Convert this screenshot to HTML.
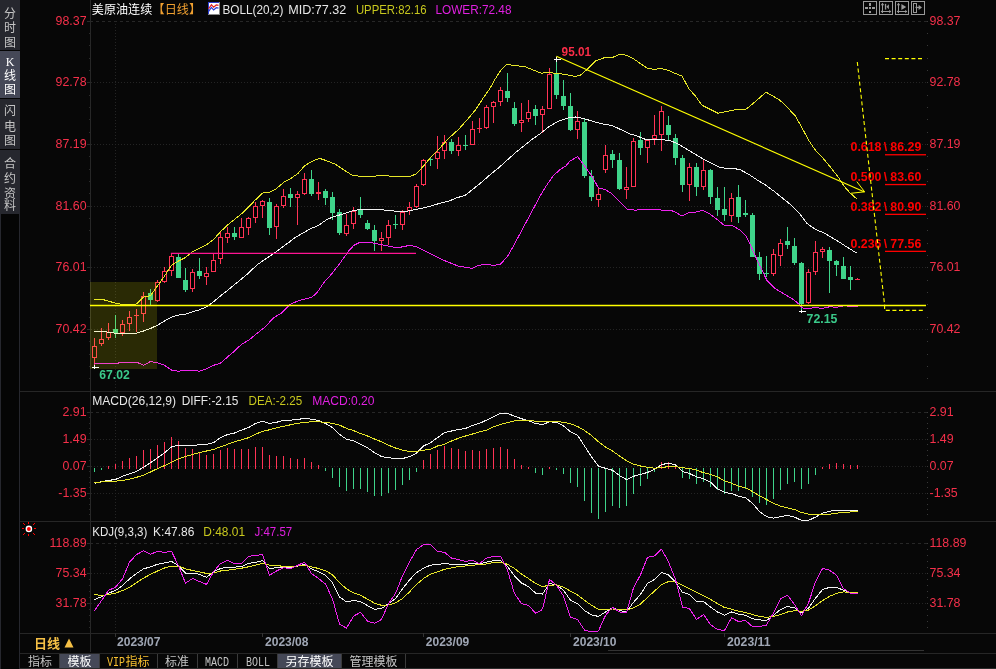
<!DOCTYPE html>
<html lang="zh"><head><meta charset="utf-8"><title>美原油连续 日线</title>
<style>
html,body{margin:0;padding:0;background:#070707;overflow:hidden}
svg text{font-family:"Liberation Sans","Noto Sans CJK SC",sans-serif}
svg .cj{font-family:"Liberation Sans","Noto Sans CJK SC","WenQuanYi Zen Hei",sans-serif}
svg .mo{font-family:"Liberation Mono","Noto Sans CJK SC",monospace}
</style></head><body>
<svg width="996" height="669" viewBox="0 0 996 669" style="display:block;will-change:transform">
<rect width="996" height="669" fill="#070707"/>
<g id="sidebar">
<rect x="0" y="0" width="20" height="669" fill="#050505"/>
<rect x="0" y="0" width="20" height="50" fill="#26272e"/>
<rect x="0" y="51" width="20" height="47" fill="#454857"/>
<rect x="0" y="99" width="20" height="50" fill="#26272e"/>
<rect x="0" y="150" width="20" height="64" fill="#26272e"/>
<rect x="0" y="214" width="1" height="455" fill="#26272e"/>
<rect x="19" y="214" width="1" height="455" fill="#26272e"/>
<text x="10" y="17.5" text-anchor="middle" font-size="12" fill="#c4c4c4" class="cj">分</text>
<text x="10" y="32" text-anchor="middle" font-size="12" fill="#c4c4c4" class="cj">时</text>
<text x="10" y="46.5" text-anchor="middle" font-size="12" fill="#c4c4c4" class="cj">图</text>
<text x="10" y="66" text-anchor="middle" font-size="12" fill="#ffffff" style="font-family:'Liberation Serif',serif">K</text>
<text x="10" y="66" text-anchor="middle" font-size="12" fill="#ffffff" class="cj"> </text>
<text x="10" y="80" text-anchor="middle" font-size="12" fill="#ffffff" class="cj">线</text>
<text x="10" y="94" text-anchor="middle" font-size="12" fill="#ffffff" class="cj">图</text>
<text x="10" y="115" text-anchor="middle" font-size="12" fill="#c4c4c4" class="cj">闪</text>
<text x="10" y="130.5" text-anchor="middle" font-size="12" fill="#c4c4c4" class="cj">电</text>
<text x="10" y="144.5" text-anchor="middle" font-size="12" fill="#c4c4c4" class="cj">图</text>
<text x="10" y="167.5" text-anchor="middle" font-size="12" fill="#c4c4c4" class="cj">合</text>
<text x="10" y="183" text-anchor="middle" font-size="12" fill="#c4c4c4" class="cj">约</text>
<text x="10" y="197.5" text-anchor="middle" font-size="12" fill="#c4c4c4" class="cj">资</text>
<text x="10" y="210.4" text-anchor="middle" font-size="12" fill="#c4c4c4" class="cj">料</text>
</g>
<g id="grid" shape-rendering="crispEdges">
<line x1="90" y1="21.5" x2="927" y2="21.5" stroke="#272727" stroke-width="1" stroke-dasharray="3 3"/>
<line x1="91" y1="82.5" x2="927" y2="82.5" stroke="#242424" stroke-width="1" stroke-dasharray="1 2"/>
<line x1="91" y1="144.5" x2="927" y2="144.5" stroke="#242424" stroke-width="1" stroke-dasharray="1 2"/>
<line x1="91" y1="206.5" x2="927" y2="206.5" stroke="#242424" stroke-width="1" stroke-dasharray="1 2"/>
<line x1="91" y1="267.5" x2="927" y2="267.5" stroke="#242424" stroke-width="1" stroke-dasharray="1 2"/>
<line x1="91" y1="329.5" x2="927" y2="329.5" stroke="#242424" stroke-width="1" stroke-dasharray="1 2"/>
<line x1="90" y1="412.5" x2="927" y2="412.5" stroke="#272727" stroke-width="1" stroke-dasharray="3 3"/>
<line x1="91" y1="439.5" x2="927" y2="439.5" stroke="#242424" stroke-width="1" stroke-dasharray="1 2"/>
<line x1="91" y1="466.5" x2="927" y2="466.5" stroke="#242424" stroke-width="1" stroke-dasharray="1 2"/>
<line x1="91" y1="493.5" x2="927" y2="493.5" stroke="#242424" stroke-width="1" stroke-dasharray="1 2"/>
<line x1="90" y1="543.5" x2="927" y2="543.5" stroke="#272727" stroke-width="1" stroke-dasharray="3 3"/>
<line x1="91" y1="573.5" x2="927" y2="573.5" stroke="#242424" stroke-width="1" stroke-dasharray="1 2"/>
<line x1="91" y1="603.5" x2="927" y2="603.5" stroke="#242424" stroke-width="1" stroke-dasharray="1 2"/>
<line x1="115.5" y1="21" x2="115.5" y2="391" stroke="#242424" stroke-width="1" stroke-dasharray="1 2"/>
<line x1="115.5" y1="412" x2="115.5" y2="521" stroke="#242424" stroke-width="1" stroke-dasharray="1 2"/>
<line x1="115.5" y1="543" x2="115.5" y2="633" stroke="#242424" stroke-width="1" stroke-dasharray="1 2"/>
<rect x="90" y="0" width="1" height="652" fill="#272727"/>
<rect x="927" y="21" width="1" height="1" fill="#383838"/>
<rect x="89" y="21" width="1" height="1" fill="#2a2a2a"/>
<rect x="927" y="33" width="1" height="1" fill="#383838"/>
<rect x="89" y="33" width="1" height="1" fill="#2a2a2a"/>
<rect x="927" y="45" width="1" height="1" fill="#383838"/>
<rect x="89" y="45" width="1" height="1" fill="#2a2a2a"/>
<rect x="927" y="58" width="1" height="1" fill="#383838"/>
<rect x="89" y="58" width="1" height="1" fill="#2a2a2a"/>
<rect x="927" y="70" width="1" height="1" fill="#383838"/>
<rect x="89" y="70" width="1" height="1" fill="#2a2a2a"/>
<rect x="927" y="82" width="1" height="1" fill="#383838"/>
<rect x="89" y="82" width="1" height="1" fill="#2a2a2a"/>
<rect x="927" y="95" width="1" height="1" fill="#383838"/>
<rect x="89" y="95" width="1" height="1" fill="#2a2a2a"/>
<rect x="927" y="107" width="1" height="1" fill="#383838"/>
<rect x="89" y="107" width="1" height="1" fill="#2a2a2a"/>
<rect x="927" y="119" width="1" height="1" fill="#383838"/>
<rect x="89" y="119" width="1" height="1" fill="#2a2a2a"/>
<rect x="927" y="132" width="1" height="1" fill="#383838"/>
<rect x="89" y="132" width="1" height="1" fill="#2a2a2a"/>
<rect x="927" y="144" width="1" height="1" fill="#383838"/>
<rect x="89" y="144" width="1" height="1" fill="#2a2a2a"/>
<rect x="927" y="156" width="1" height="1" fill="#383838"/>
<rect x="89" y="156" width="1" height="1" fill="#2a2a2a"/>
<rect x="927" y="169" width="1" height="1" fill="#383838"/>
<rect x="89" y="169" width="1" height="1" fill="#2a2a2a"/>
<rect x="927" y="181" width="1" height="1" fill="#383838"/>
<rect x="89" y="181" width="1" height="1" fill="#2a2a2a"/>
<rect x="927" y="193" width="1" height="1" fill="#383838"/>
<rect x="89" y="193" width="1" height="1" fill="#2a2a2a"/>
<rect x="927" y="206" width="1" height="1" fill="#383838"/>
<rect x="89" y="206" width="1" height="1" fill="#2a2a2a"/>
<rect x="927" y="218" width="1" height="1" fill="#383838"/>
<rect x="89" y="218" width="1" height="1" fill="#2a2a2a"/>
<rect x="927" y="230" width="1" height="1" fill="#383838"/>
<rect x="89" y="230" width="1" height="1" fill="#2a2a2a"/>
<rect x="927" y="243" width="1" height="1" fill="#383838"/>
<rect x="89" y="243" width="1" height="1" fill="#2a2a2a"/>
<rect x="927" y="255" width="1" height="1" fill="#383838"/>
<rect x="89" y="255" width="1" height="1" fill="#2a2a2a"/>
<rect x="927" y="267" width="1" height="1" fill="#383838"/>
<rect x="89" y="267" width="1" height="1" fill="#2a2a2a"/>
<rect x="927" y="280" width="1" height="1" fill="#383838"/>
<rect x="89" y="280" width="1" height="1" fill="#2a2a2a"/>
<rect x="927" y="292" width="1" height="1" fill="#383838"/>
<rect x="89" y="292" width="1" height="1" fill="#2a2a2a"/>
<rect x="927" y="304" width="1" height="1" fill="#383838"/>
<rect x="89" y="304" width="1" height="1" fill="#2a2a2a"/>
<rect x="927" y="317" width="1" height="1" fill="#383838"/>
<rect x="89" y="317" width="1" height="1" fill="#2a2a2a"/>
<rect x="927" y="329" width="1" height="1" fill="#383838"/>
<rect x="89" y="329" width="1" height="1" fill="#2a2a2a"/>
<rect x="927" y="341" width="1" height="1" fill="#383838"/>
<rect x="89" y="341" width="1" height="1" fill="#2a2a2a"/>
<rect x="927" y="354" width="1" height="1" fill="#383838"/>
<rect x="89" y="354" width="1" height="1" fill="#2a2a2a"/>
<rect x="927" y="366" width="1" height="1" fill="#383838"/>
<rect x="89" y="366" width="1" height="1" fill="#2a2a2a"/>
<rect x="927" y="378" width="1" height="1" fill="#383838"/>
<rect x="89" y="378" width="1" height="1" fill="#2a2a2a"/>
<rect x="927" y="412" width="1" height="1" fill="#383838"/>
<rect x="89" y="412" width="1" height="1" fill="#2a2a2a"/>
<rect x="927" y="417" width="1" height="1" fill="#383838"/>
<rect x="89" y="417" width="1" height="1" fill="#2a2a2a"/>
<rect x="927" y="423" width="1" height="1" fill="#383838"/>
<rect x="89" y="423" width="1" height="1" fill="#2a2a2a"/>
<rect x="927" y="428" width="1" height="1" fill="#383838"/>
<rect x="89" y="428" width="1" height="1" fill="#2a2a2a"/>
<rect x="927" y="433" width="1" height="1" fill="#383838"/>
<rect x="89" y="433" width="1" height="1" fill="#2a2a2a"/>
<rect x="927" y="439" width="1" height="1" fill="#383838"/>
<rect x="89" y="439" width="1" height="1" fill="#2a2a2a"/>
<rect x="927" y="444" width="1" height="1" fill="#383838"/>
<rect x="89" y="444" width="1" height="1" fill="#2a2a2a"/>
<rect x="927" y="450" width="1" height="1" fill="#383838"/>
<rect x="89" y="450" width="1" height="1" fill="#2a2a2a"/>
<rect x="927" y="455" width="1" height="1" fill="#383838"/>
<rect x="89" y="455" width="1" height="1" fill="#2a2a2a"/>
<rect x="927" y="460" width="1" height="1" fill="#383838"/>
<rect x="89" y="460" width="1" height="1" fill="#2a2a2a"/>
<rect x="927" y="466" width="1" height="1" fill="#383838"/>
<rect x="89" y="466" width="1" height="1" fill="#2a2a2a"/>
<rect x="927" y="471" width="1" height="1" fill="#383838"/>
<rect x="89" y="471" width="1" height="1" fill="#2a2a2a"/>
<rect x="927" y="477" width="1" height="1" fill="#383838"/>
<rect x="89" y="477" width="1" height="1" fill="#2a2a2a"/>
<rect x="927" y="482" width="1" height="1" fill="#383838"/>
<rect x="89" y="482" width="1" height="1" fill="#2a2a2a"/>
<rect x="927" y="487" width="1" height="1" fill="#383838"/>
<rect x="89" y="487" width="1" height="1" fill="#2a2a2a"/>
<rect x="927" y="493" width="1" height="1" fill="#383838"/>
<rect x="89" y="493" width="1" height="1" fill="#2a2a2a"/>
<rect x="927" y="498" width="1" height="1" fill="#383838"/>
<rect x="89" y="498" width="1" height="1" fill="#2a2a2a"/>
<rect x="927" y="504" width="1" height="1" fill="#383838"/>
<rect x="89" y="504" width="1" height="1" fill="#2a2a2a"/>
<rect x="927" y="509" width="1" height="1" fill="#383838"/>
<rect x="89" y="509" width="1" height="1" fill="#2a2a2a"/>
<rect x="927" y="514" width="1" height="1" fill="#383838"/>
<rect x="89" y="514" width="1" height="1" fill="#2a2a2a"/>
<rect x="927" y="543" width="1" height="1" fill="#383838"/>
<rect x="89" y="543" width="1" height="1" fill="#2a2a2a"/>
<rect x="927" y="549" width="1" height="1" fill="#383838"/>
<rect x="89" y="549" width="1" height="1" fill="#2a2a2a"/>
<rect x="927" y="555" width="1" height="1" fill="#383838"/>
<rect x="89" y="555" width="1" height="1" fill="#2a2a2a"/>
<rect x="927" y="561" width="1" height="1" fill="#383838"/>
<rect x="89" y="561" width="1" height="1" fill="#2a2a2a"/>
<rect x="927" y="567" width="1" height="1" fill="#383838"/>
<rect x="89" y="567" width="1" height="1" fill="#2a2a2a"/>
<rect x="927" y="573" width="1" height="1" fill="#383838"/>
<rect x="89" y="573" width="1" height="1" fill="#2a2a2a"/>
<rect x="927" y="579" width="1" height="1" fill="#383838"/>
<rect x="89" y="579" width="1" height="1" fill="#2a2a2a"/>
<rect x="927" y="585" width="1" height="1" fill="#383838"/>
<rect x="89" y="585" width="1" height="1" fill="#2a2a2a"/>
<rect x="927" y="591" width="1" height="1" fill="#383838"/>
<rect x="89" y="591" width="1" height="1" fill="#2a2a2a"/>
<rect x="927" y="597" width="1" height="1" fill="#383838"/>
<rect x="89" y="597" width="1" height="1" fill="#2a2a2a"/>
<rect x="927" y="603" width="1" height="1" fill="#383838"/>
<rect x="89" y="603" width="1" height="1" fill="#2a2a2a"/>
<rect x="927" y="609" width="1" height="1" fill="#383838"/>
<rect x="89" y="609" width="1" height="1" fill="#2a2a2a"/>
<rect x="927" y="615" width="1" height="1" fill="#383838"/>
<rect x="89" y="615" width="1" height="1" fill="#2a2a2a"/>
<rect x="927" y="621" width="1" height="1" fill="#383838"/>
<rect x="89" y="621" width="1" height="1" fill="#2a2a2a"/>
<rect x="927" y="627" width="1" height="1" fill="#383838"/>
<rect x="89" y="627" width="1" height="1" fill="#2a2a2a"/>
<rect x="87" y="21" width="3" height="1" fill="#2a2a2a"/>
<rect x="87" y="82" width="3" height="1" fill="#2a2a2a"/>
<rect x="87" y="144" width="3" height="1" fill="#2a2a2a"/>
<rect x="87" y="206" width="3" height="1" fill="#2a2a2a"/>
<rect x="87" y="267" width="3" height="1" fill="#2a2a2a"/>
<rect x="87" y="329" width="3" height="1" fill="#2a2a2a"/>
<rect x="87" y="412" width="3" height="1" fill="#2a2a2a"/>
<rect x="87" y="439" width="3" height="1" fill="#2a2a2a"/>
<rect x="87" y="466" width="3" height="1" fill="#2a2a2a"/>
<rect x="87" y="493" width="3" height="1" fill="#2a2a2a"/>
<rect x="87" y="543" width="3" height="1" fill="#2a2a2a"/>
<rect x="87" y="573" width="3" height="1" fill="#2a2a2a"/>
<rect x="87" y="603" width="3" height="1" fill="#2a2a2a"/>
<rect x="20" y="391" width="976" height="1" fill="#262626"/>
<rect x="20" y="521" width="976" height="1" fill="#262626"/>
<rect x="20" y="633" width="976" height="1" fill="#262626"/>
<rect x="20" y="653" width="976" height="1" fill="#262626"/>
<rect x="608" y="650" width="316" height="1" fill="#333"/>
<rect x="20" y="668" width="976" height="1" fill="#2b2b2b"/>
</g>
<g id="candles" shape-rendering="crispEdges">
<rect x="94" y="338" width="1" height="27" fill="#ff3355"/>
<rect x="92" y="346" width="5" height="12" fill="#ff3355"/>
<rect x="93" y="347" width="3" height="10" fill="#000"/>
<rect x="101" y="328" width="1" height="18" fill="#ff3355"/>
<rect x="99" y="339" width="5" height="5" fill="#ff3355"/>
<rect x="100" y="340" width="3" height="3" fill="#000"/>
<rect x="108" y="323" width="1" height="17" fill="#ff3355"/>
<rect x="106" y="332" width="5" height="6" fill="#ff3355"/>
<rect x="107" y="333" width="3" height="4" fill="#000"/>
<rect x="115" y="315" width="1" height="23" fill="#3fd48a"/>
<rect x="113" y="329" width="5" height="4" fill="#3fd48a"/>
<rect x="122" y="320" width="1" height="16" fill="#ff3355"/>
<rect x="120" y="324" width="5" height="9" fill="#ff3355"/>
<rect x="121" y="325" width="3" height="7" fill="#000"/>
<rect x="129" y="311" width="1" height="20" fill="#ff3355"/>
<rect x="127" y="317" width="5" height="7" fill="#ff3355"/>
<rect x="128" y="318" width="3" height="5" fill="#000"/>
<rect x="136" y="309" width="1" height="23" fill="#ff3355"/>
<rect x="134" y="315" width="5" height="1" fill="#ff3355"/>
<rect x="143" y="292" width="1" height="30" fill="#ff3355"/>
<rect x="141" y="296" width="5" height="18" fill="#ff3355"/>
<rect x="142" y="297" width="3" height="16" fill="#000"/>
<rect x="150" y="289" width="1" height="16" fill="#3fd48a"/>
<rect x="148" y="293" width="5" height="7" fill="#3fd48a"/>
<rect x="157" y="280" width="1" height="22" fill="#ff3355"/>
<rect x="155" y="282" width="5" height="19" fill="#ff3355"/>
<rect x="156" y="283" width="3" height="17" fill="#000"/>
<rect x="164" y="267" width="1" height="16" fill="#ff3355"/>
<rect x="162" y="271" width="5" height="11" fill="#ff3355"/>
<rect x="163" y="272" width="3" height="9" fill="#000"/>
<rect x="171" y="253" width="1" height="23" fill="#ff3355"/>
<rect x="169" y="256" width="5" height="15" fill="#ff3355"/>
<rect x="170" y="257" width="3" height="13" fill="#000"/>
<rect x="178" y="254" width="1" height="24" fill="#3fd48a"/>
<rect x="176" y="257" width="5" height="21" fill="#3fd48a"/>
<rect x="185" y="268" width="1" height="24" fill="#3fd48a"/>
<rect x="183" y="280" width="5" height="10" fill="#3fd48a"/>
<rect x="192" y="269" width="1" height="23" fill="#ff3355"/>
<rect x="190" y="272" width="5" height="17" fill="#ff3355"/>
<rect x="191" y="273" width="3" height="15" fill="#000"/>
<rect x="199" y="258" width="1" height="21" fill="#3fd48a"/>
<rect x="197" y="271" width="5" height="5" fill="#3fd48a"/>
<rect x="206" y="267" width="1" height="18" fill="#ff3355"/>
<rect x="204" y="273" width="5" height="4" fill="#ff3355"/>
<rect x="205" y="274" width="3" height="2" fill="#000"/>
<rect x="213" y="254" width="1" height="18" fill="#ff3355"/>
<rect x="211" y="260" width="5" height="12" fill="#ff3355"/>
<rect x="212" y="261" width="3" height="10" fill="#000"/>
<rect x="220" y="232" width="1" height="32" fill="#ff3355"/>
<rect x="218" y="237" width="5" height="22" fill="#ff3355"/>
<rect x="219" y="238" width="3" height="20" fill="#000"/>
<rect x="227" y="227" width="1" height="16" fill="#ff3355"/>
<rect x="225" y="233" width="5" height="5" fill="#ff3355"/>
<rect x="226" y="234" width="3" height="3" fill="#000"/>
<rect x="234" y="227" width="1" height="13" fill="#3fd48a"/>
<rect x="232" y="233" width="5" height="4" fill="#3fd48a"/>
<rect x="241" y="218" width="1" height="20" fill="#ff3355"/>
<rect x="239" y="227" width="5" height="11" fill="#ff3355"/>
<rect x="240" y="228" width="3" height="9" fill="#000"/>
<rect x="248" y="217" width="1" height="18" fill="#ff3355"/>
<rect x="246" y="218" width="5" height="10" fill="#ff3355"/>
<rect x="247" y="219" width="3" height="8" fill="#000"/>
<rect x="255" y="202" width="1" height="21" fill="#ff3355"/>
<rect x="253" y="206" width="5" height="12" fill="#ff3355"/>
<rect x="254" y="207" width="3" height="10" fill="#000"/>
<rect x="262" y="200" width="1" height="18" fill="#ff3355"/>
<rect x="260" y="201" width="5" height="5" fill="#ff3355"/>
<rect x="261" y="202" width="3" height="3" fill="#000"/>
<rect x="269" y="198" width="1" height="37" fill="#3fd48a"/>
<rect x="267" y="202" width="5" height="26" fill="#3fd48a"/>
<rect x="276" y="204" width="1" height="35" fill="#ff3355"/>
<rect x="274" y="206" width="5" height="21" fill="#ff3355"/>
<rect x="275" y="207" width="3" height="19" fill="#000"/>
<rect x="283" y="189" width="1" height="19" fill="#ff3355"/>
<rect x="281" y="196" width="5" height="10" fill="#ff3355"/>
<rect x="282" y="197" width="3" height="8" fill="#000"/>
<rect x="290" y="188" width="1" height="19" fill="#3fd48a"/>
<rect x="288" y="194" width="5" height="4" fill="#3fd48a"/>
<rect x="297" y="191" width="1" height="34" fill="#ff3355"/>
<rect x="295" y="194" width="5" height="4" fill="#ff3355"/>
<rect x="296" y="195" width="3" height="2" fill="#000"/>
<rect x="304" y="173" width="1" height="22" fill="#ff3355"/>
<rect x="302" y="179" width="5" height="15" fill="#ff3355"/>
<rect x="303" y="180" width="3" height="13" fill="#000"/>
<rect x="311" y="170" width="1" height="26" fill="#3fd48a"/>
<rect x="309" y="179" width="5" height="15" fill="#3fd48a"/>
<rect x="318" y="182" width="1" height="18" fill="#ff3355"/>
<rect x="316" y="192" width="5" height="2" fill="#ff3355"/>
<rect x="325" y="189" width="1" height="16" fill="#3fd48a"/>
<rect x="323" y="191" width="5" height="7" fill="#3fd48a"/>
<rect x="332" y="192" width="1" height="28" fill="#3fd48a"/>
<rect x="330" y="197" width="5" height="16" fill="#3fd48a"/>
<rect x="339" y="209" width="1" height="26" fill="#3fd48a"/>
<rect x="337" y="212" width="5" height="21" fill="#3fd48a"/>
<rect x="346" y="214" width="1" height="22" fill="#ff3355"/>
<rect x="344" y="225" width="5" height="9" fill="#ff3355"/>
<rect x="345" y="226" width="3" height="7" fill="#000"/>
<rect x="353" y="207" width="1" height="22" fill="#ff3355"/>
<rect x="351" y="211" width="5" height="13" fill="#ff3355"/>
<rect x="352" y="212" width="3" height="11" fill="#000"/>
<rect x="360" y="197" width="1" height="21" fill="#3fd48a"/>
<rect x="358" y="210" width="5" height="5" fill="#3fd48a"/>
<rect x="367" y="220" width="1" height="10" fill="#3fd48a"/>
<rect x="365" y="223" width="5" height="6" fill="#3fd48a"/>
<rect x="374" y="225" width="1" height="26" fill="#3fd48a"/>
<rect x="372" y="230" width="5" height="11" fill="#3fd48a"/>
<rect x="381" y="232" width="1" height="19" fill="#ff3355"/>
<rect x="379" y="238" width="5" height="3" fill="#ff3355"/>
<rect x="380" y="239" width="3" height="1" fill="#000"/>
<rect x="388" y="220" width="1" height="25" fill="#ff3355"/>
<rect x="386" y="225" width="5" height="13" fill="#ff3355"/>
<rect x="387" y="226" width="3" height="11" fill="#000"/>
<rect x="395" y="215" width="1" height="14" fill="#3fd48a"/>
<rect x="393" y="224" width="5" height="1" fill="#3fd48a"/>
<rect x="402" y="210" width="1" height="20" fill="#ff3355"/>
<rect x="400" y="212" width="5" height="13" fill="#ff3355"/>
<rect x="401" y="213" width="3" height="11" fill="#000"/>
<rect x="409" y="202" width="1" height="13" fill="#ff3355"/>
<rect x="407" y="207" width="5" height="4" fill="#ff3355"/>
<rect x="408" y="208" width="3" height="2" fill="#000"/>
<rect x="416" y="184" width="1" height="24" fill="#ff3355"/>
<rect x="414" y="186" width="5" height="21" fill="#ff3355"/>
<rect x="415" y="187" width="3" height="19" fill="#000"/>
<rect x="423" y="159" width="1" height="27" fill="#ff3355"/>
<rect x="421" y="160" width="5" height="25" fill="#ff3355"/>
<rect x="422" y="161" width="3" height="23" fill="#000"/>
<rect x="430" y="157" width="1" height="9" fill="#3fd48a"/>
<rect x="428" y="159" width="5" height="1" fill="#3fd48a"/>
<rect x="437" y="136" width="1" height="33" fill="#ff3355"/>
<rect x="435" y="152" width="5" height="7" fill="#ff3355"/>
<rect x="436" y="153" width="3" height="5" fill="#000"/>
<rect x="444" y="135" width="1" height="24" fill="#ff3355"/>
<rect x="442" y="142" width="5" height="9" fill="#ff3355"/>
<rect x="443" y="143" width="3" height="7" fill="#000"/>
<rect x="451" y="139" width="1" height="15" fill="#3fd48a"/>
<rect x="449" y="142" width="5" height="9" fill="#3fd48a"/>
<rect x="458" y="137" width="1" height="19" fill="#ff3355"/>
<rect x="456" y="145" width="5" height="6" fill="#ff3355"/>
<rect x="457" y="146" width="3" height="4" fill="#000"/>
<rect x="465" y="135" width="1" height="15" fill="#3fd48a"/>
<rect x="463" y="145" width="5" height="1" fill="#3fd48a"/>
<rect x="472" y="121" width="1" height="24" fill="#ff3355"/>
<rect x="470" y="129" width="5" height="16" fill="#ff3355"/>
<rect x="471" y="130" width="3" height="14" fill="#000"/>
<rect x="479" y="118" width="1" height="15" fill="#ff3355"/>
<rect x="477" y="128" width="5" height="1" fill="#ff3355"/>
<rect x="486" y="105" width="1" height="24" fill="#ff3355"/>
<rect x="484" y="107" width="5" height="21" fill="#ff3355"/>
<rect x="485" y="108" width="3" height="19" fill="#000"/>
<rect x="493" y="101" width="1" height="22" fill="#ff3355"/>
<rect x="491" y="102" width="5" height="5" fill="#ff3355"/>
<rect x="492" y="103" width="3" height="3" fill="#000"/>
<rect x="500" y="87" width="1" height="19" fill="#ff3355"/>
<rect x="498" y="90" width="5" height="12" fill="#ff3355"/>
<rect x="499" y="91" width="3" height="10" fill="#000"/>
<rect x="507" y="73" width="1" height="29" fill="#3fd48a"/>
<rect x="505" y="91" width="5" height="7" fill="#3fd48a"/>
<rect x="514" y="102" width="1" height="24" fill="#3fd48a"/>
<rect x="512" y="108" width="5" height="16" fill="#3fd48a"/>
<rect x="521" y="103" width="1" height="29" fill="#ff3355"/>
<rect x="519" y="120" width="5" height="3" fill="#ff3355"/>
<rect x="520" y="121" width="3" height="1" fill="#000"/>
<rect x="528" y="100" width="1" height="22" fill="#ff3355"/>
<rect x="526" y="112" width="5" height="7" fill="#ff3355"/>
<rect x="527" y="113" width="3" height="5" fill="#000"/>
<rect x="535" y="105" width="1" height="20" fill="#3fd48a"/>
<rect x="533" y="109" width="5" height="7" fill="#3fd48a"/>
<rect x="542" y="106" width="1" height="27" fill="#ff3355"/>
<rect x="540" y="109" width="5" height="6" fill="#ff3355"/>
<rect x="541" y="110" width="3" height="4" fill="#000"/>
<rect x="549" y="68" width="1" height="41" fill="#ff3355"/>
<rect x="547" y="74" width="5" height="35" fill="#ff3355"/>
<rect x="548" y="75" width="3" height="33" fill="#000"/>
<rect x="556" y="59" width="1" height="40" fill="#3fd48a"/>
<rect x="554" y="74" width="5" height="21" fill="#3fd48a"/>
<rect x="563" y="80" width="1" height="30" fill="#3fd48a"/>
<rect x="561" y="96" width="5" height="10" fill="#3fd48a"/>
<rect x="570" y="93" width="1" height="38" fill="#3fd48a"/>
<rect x="568" y="106" width="5" height="24" fill="#3fd48a"/>
<rect x="577" y="111" width="1" height="28" fill="#ff3355"/>
<rect x="575" y="121" width="5" height="9" fill="#ff3355"/>
<rect x="576" y="122" width="3" height="7" fill="#000"/>
<rect x="584" y="119" width="1" height="59" fill="#3fd48a"/>
<rect x="582" y="122" width="5" height="54" fill="#3fd48a"/>
<rect x="591" y="170" width="1" height="31" fill="#3fd48a"/>
<rect x="589" y="176" width="5" height="21" fill="#3fd48a"/>
<rect x="598" y="188" width="1" height="19" fill="#ff3355"/>
<rect x="596" y="194" width="5" height="6" fill="#ff3355"/>
<rect x="597" y="195" width="3" height="4" fill="#000"/>
<rect x="605" y="145" width="1" height="28" fill="#ff3355"/>
<rect x="603" y="155" width="5" height="15" fill="#ff3355"/>
<rect x="604" y="156" width="3" height="13" fill="#000"/>
<rect x="612" y="150" width="1" height="18" fill="#3fd48a"/>
<rect x="610" y="154" width="5" height="6" fill="#3fd48a"/>
<rect x="619" y="153" width="1" height="37" fill="#3fd48a"/>
<rect x="617" y="160" width="5" height="29" fill="#3fd48a"/>
<rect x="626" y="167" width="1" height="32" fill="#ff3355"/>
<rect x="624" y="187" width="5" height="3" fill="#ff3355"/>
<rect x="625" y="188" width="3" height="1" fill="#000"/>
<rect x="633" y="138" width="1" height="49" fill="#ff3355"/>
<rect x="631" y="141" width="5" height="46" fill="#ff3355"/>
<rect x="632" y="142" width="3" height="44" fill="#000"/>
<rect x="640" y="132" width="1" height="23" fill="#3fd48a"/>
<rect x="638" y="140" width="5" height="8" fill="#3fd48a"/>
<rect x="647" y="140" width="1" height="23" fill="#ff3355"/>
<rect x="645" y="140" width="5" height="8" fill="#ff3355"/>
<rect x="646" y="141" width="3" height="6" fill="#000"/>
<rect x="654" y="115" width="1" height="30" fill="#ff3355"/>
<rect x="652" y="135" width="5" height="4" fill="#ff3355"/>
<rect x="653" y="136" width="3" height="2" fill="#000"/>
<rect x="661" y="106" width="1" height="45" fill="#ff3355"/>
<rect x="659" y="111" width="5" height="24" fill="#ff3355"/>
<rect x="660" y="112" width="3" height="22" fill="#000"/>
<rect x="668" y="116" width="1" height="24" fill="#3fd48a"/>
<rect x="666" y="125" width="5" height="10" fill="#3fd48a"/>
<rect x="675" y="134" width="1" height="31" fill="#3fd48a"/>
<rect x="673" y="138" width="5" height="20" fill="#3fd48a"/>
<rect x="682" y="155" width="1" height="37" fill="#3fd48a"/>
<rect x="680" y="158" width="5" height="27" fill="#3fd48a"/>
<rect x="689" y="163" width="1" height="38" fill="#ff3355"/>
<rect x="687" y="167" width="5" height="18" fill="#ff3355"/>
<rect x="688" y="168" width="3" height="16" fill="#000"/>
<rect x="696" y="163" width="1" height="33" fill="#3fd48a"/>
<rect x="694" y="167" width="5" height="20" fill="#3fd48a"/>
<rect x="703" y="159" width="1" height="31" fill="#ff3355"/>
<rect x="701" y="170" width="5" height="17" fill="#ff3355"/>
<rect x="702" y="171" width="3" height="15" fill="#000"/>
<rect x="710" y="169" width="1" height="35" fill="#3fd48a"/>
<rect x="708" y="170" width="5" height="27" fill="#3fd48a"/>
<rect x="717" y="187" width="1" height="29" fill="#3fd48a"/>
<rect x="715" y="198" width="5" height="12" fill="#3fd48a"/>
<rect x="724" y="187" width="1" height="34" fill="#3fd48a"/>
<rect x="722" y="209" width="5" height="6" fill="#3fd48a"/>
<rect x="731" y="193" width="1" height="29" fill="#ff3355"/>
<rect x="729" y="198" width="5" height="18" fill="#ff3355"/>
<rect x="730" y="199" width="3" height="16" fill="#000"/>
<rect x="738" y="185" width="1" height="38" fill="#3fd48a"/>
<rect x="736" y="197" width="5" height="20" fill="#3fd48a"/>
<rect x="745" y="200" width="1" height="17" fill="#3fd48a"/>
<rect x="743" y="213" width="5" height="2" fill="#3fd48a"/>
<rect x="752" y="213" width="1" height="44" fill="#3fd48a"/>
<rect x="750" y="215" width="5" height="42" fill="#3fd48a"/>
<rect x="759" y="252" width="1" height="28" fill="#3fd48a"/>
<rect x="757" y="257" width="5" height="17" fill="#3fd48a"/>
<rect x="766" y="256" width="1" height="21" fill="#3fd48a"/>
<rect x="764" y="273" width="5" height="1" fill="#3fd48a"/>
<rect x="773" y="249" width="1" height="27" fill="#ff3355"/>
<rect x="771" y="254" width="5" height="20" fill="#ff3355"/>
<rect x="772" y="255" width="3" height="18" fill="#000"/>
<rect x="780" y="239" width="1" height="27" fill="#ff3355"/>
<rect x="778" y="243" width="5" height="13" fill="#ff3355"/>
<rect x="779" y="244" width="3" height="11" fill="#000"/>
<rect x="787" y="227" width="1" height="22" fill="#3fd48a"/>
<rect x="785" y="241" width="5" height="4" fill="#3fd48a"/>
<rect x="794" y="238" width="1" height="27" fill="#3fd48a"/>
<rect x="792" y="246" width="5" height="17" fill="#3fd48a"/>
<rect x="801" y="262" width="1" height="48" fill="#3fd48a"/>
<rect x="799" y="263" width="5" height="41" fill="#3fd48a"/>
<rect x="808" y="269" width="1" height="35" fill="#ff3355"/>
<rect x="806" y="272" width="5" height="31" fill="#ff3355"/>
<rect x="807" y="273" width="3" height="29" fill="#000"/>
<rect x="815" y="241" width="1" height="34" fill="#ff3355"/>
<rect x="813" y="252" width="5" height="20" fill="#ff3355"/>
<rect x="814" y="253" width="3" height="18" fill="#000"/>
<rect x="822" y="247" width="1" height="11" fill="#ff3355"/>
<rect x="820" y="249" width="5" height="3" fill="#ff3355"/>
<rect x="821" y="250" width="3" height="1" fill="#000"/>
<rect x="829" y="247" width="1" height="46" fill="#3fd48a"/>
<rect x="827" y="250" width="5" height="11" fill="#3fd48a"/>
<rect x="836" y="260" width="1" height="16" fill="#3fd48a"/>
<rect x="834" y="261" width="5" height="4" fill="#3fd48a"/>
<rect x="843" y="257" width="1" height="22" fill="#3fd48a"/>
<rect x="841" y="266" width="5" height="13" fill="#3fd48a"/>
<rect x="850" y="266" width="1" height="24" fill="#3fd48a"/>
<rect x="848" y="277" width="5" height="3" fill="#3fd48a"/>
<rect x="855" y="279" width="5" height="1" fill="#ff3355"/>
<rect x="857" y="278" width="1" height="1" fill="#ff3355"/>
</g>
<polyline points="93.5,299.1 101.4,299.1 108.4,301.1 115.4,303.1 122.3,304.5 129.3,305.0 136.4,304.0 143.5,297.2 150.4,295.6 157.4,286.1 164.5,276.0 171.5,265.2 178.4,261.0 185.4,257.6 192.4,251.8 199.4,248.4 206.5,244.7 213.5,239.7 220.5,231.7 227.5,225.0 236.0,218.2 242.0,213.4 248.0,207.4 253.9,201.4 262.3,193.1 268.9,192.5 275.4,189.5 283.8,182.3 288.6,179.9 298.1,173.4 304.7,165.6 310.3,162.5 315.3,160.0 320.0,158.5 324.5,160.0 335.4,164.2 343.8,170.0 352.1,175.1 360.5,176.4 368.9,176.7 377.2,175.9 385.6,175.9 394.0,176.2 401.0,176.4 410.1,176.6 416.8,173.5 423.5,166.0 431.8,156.0 440.2,147.6 448.6,138.4 458.4,129.5 466.7,120.3 475.1,110.3 483.5,97.6 485.0,95.4 488.4,90.7 491.7,85.3 495.1,79.2 498.5,73.8 501.8,69.1 505.2,65.8 507.2,64.4 511.9,65.1 525.4,66.8 529.4,68.5 536.1,71.2 541.5,73.2 548.3,72.4 555.0,73.2 565.8,74.5 575.5,76.5 580.5,75.1 587.2,69.3 595.6,60.9 604.0,57.8 613.4,57.1 620.1,54.2 626.8,55.4 633.5,58.8 640.2,63.4 647.7,68.5 655.2,69.3 660.2,68.5 666.9,69.8 675.3,73.5 682.0,76.0 688.7,88.5 695.4,96.1 702.1,105.3 710.4,109.5 718.0,113.3 725.5,111.6 733.9,110.0 745.9,109.3 755.1,101.8 766.0,92.1 779.4,99.8 786.9,106.8 795.3,116.0 802.0,127.7 808.6,140.3 815.3,150.0 822.0,157.0 830.4,167.1 838.8,177.9 843.9,186.0 850.6,193.5 857.5,199.5" fill="none" stroke="#e6e628" stroke-width="1" stroke-linejoin="round" shape-rendering="crispEdges"/>
<polyline points="93.5,331.0 101.4,331.0 108.4,332.2 115.4,333.2 122.3,333.5 129.3,333.5 136.4,333.2 143.5,331.0 150.4,328.5 157.4,325.2 164.5,321.0 171.5,317.1 178.4,315.1 185.4,314.3 192.4,311.8 199.4,309.8 206.5,306.8 213.5,301.8 220.5,295.9 227.5,290.4 234.4,284.7 240.0,280.2 248.4,273.2 256.7,265.1 265.1,259.3 273.5,253.7 281.8,247.5 290.2,241.4 293.6,238.6 301.9,233.6 310.3,228.9 318.7,225.3 327.0,219.4 335.4,216.1 343.8,213.9 352.1,211.0 360.5,209.4 368.9,209.4 377.2,209.4 385.6,210.2 394.0,211.0 398.4,212.0 406.7,211.2 415.1,209.5 423.5,207.9 431.8,205.7 440.2,203.2 448.6,201.2 456.9,197.8 465.3,195.3 473.7,188.6 482.0,181.9 490.4,174.4 498.8,167.7 507.1,160.2 515.5,152.6 523.9,145.9 532.2,139.2 540.6,133.4 549.0,126.5 558.8,121.1 567.1,118.1 575.5,117.0 583.9,118.6 592.2,121.1 600.6,123.6 611.8,125.4 620.2,129.3 628.6,133.5 636.9,136.0 645.3,139.3 653.7,139.7 662.0,139.7 670.4,140.7 678.8,144.3 687.1,149.4 695.5,154.4 703.9,159.4 712.2,163.6 720.6,167.8 729.0,168.3 736.0,168.9 740.2,169.7 748.6,174.3 756.9,179.8 765.3,184.8 773.7,191.0 782.0,197.7 790.4,204.4 798.8,212.7 807.1,223.6 815.5,229.5 823.9,232.8 832.2,237.9 840.6,242.9 849.0,248.4 857.5,253.5" fill="none" stroke="#f2f2f2" stroke-width="1" stroke-linejoin="round" shape-rendering="crispEdges"/>
<polyline points="93.5,363.2 101.4,363.2 108.4,363.2 118.5,363.2 119.5,362.0 129.3,362.0 136.4,362.0 143.5,365.3 150.4,361.5 157.4,362.8 164.5,365.3 171.5,370.0 178.4,371.2 185.4,370.4 192.4,370.4 199.4,371.2 206.5,368.7 213.5,365.3 220.5,363.2 227.5,357.0 234.4,351.1 241.4,344.4 248.5,340.3 256.7,333.7 265.1,327.0 273.5,317.8 281.8,312.8 290.2,304.4 298.6,300.6 306.9,298.6 312.0,297.2 317.0,292.7 323.7,282.7 332.0,273.5 340.4,262.6 348.8,250.9 353.8,245.4 359.6,242.5 370.5,242.5 378.9,244.2 387.3,245.9 395.6,247.5 400.0,247.3 410.0,245.3 416.7,246.7 425.1,251.2 433.5,255.4 441.8,259.5 450.2,262.9 458.6,266.2 466.9,267.4 472.0,268.4 478.7,265.4 485.3,264.1 493.7,265.4 500.4,264.1 507.1,257.0 513.8,245.3 520.5,232.8 527.2,220.2 533.9,207.7 540.6,195.1 547.3,184.2 553.9,175.0 560.6,169.2 566.0,165.8 570.0,161.1 577.5,156.6 583.4,164.4 591.8,176.1 598.4,187.9 605.1,189.5 611.8,193.7 618.4,200.2 626.7,208.9 635.1,210.2 643.5,209.4 660.2,209.9 673.6,211.1 682.0,216.1 688.7,212.8 697.0,211.9 702.9,210.2 710.4,214.4 717.1,219.4 723.8,225.0 732.2,225.6 740.5,230.3 745.5,235.3 750.6,245.4 757.3,260.4 766.9,280.3 775.3,288.7 783.7,293.7 792.0,298.7 800.4,305.1 801.5,307.5 805.0,308.5 811.5,308.5 812.5,307.5 818.5,307.5 819.5,308.5 823.5,308.5 824.5,307.5 828.0,307.5 829.0,306.5 832.5,306.5 833.5,307.5 837.5,307.5 838.5,306.5 842.0,306.5 843.0,305.5 847.0,305.5 848.0,306.5 857.5,306.5" fill="none" stroke="#ee22ee" stroke-width="1" stroke-linejoin="round" shape-rendering="crispEdges"/>
<rect x="90" y="282" width="67" height="87" fill="#ffff00" fill-opacity="0.145"/>
<line x1="90" y1="305.5" x2="926" y2="305.5" stroke="#ffff00" stroke-width="1.3"/>
<polyline points="171.5,254 171.5,253.4 416,253.4" fill="none" stroke="#ff1493" stroke-width="1.3"/>
<g fill="none" stroke="#ffff00">
<line x1="556.3" y1="56.2" x2="864.6" y2="192" stroke-width="1.15"/>
<polyline points="856.8,181.6 864.6,191.8 850.9,193.3" stroke-width="1"/>
</g>
<g shape-rendering="crispEdges" fill="#fff">
<rect x="92" y="367" width="7" height="1"/><rect x="94" y="365" width="1" height="4"/>
<rect x="554" y="59" width="7" height="1"/><rect x="556" y="57" width="1" height="5"/>
<rect x="799" y="311" width="7" height="1"/><rect x="801" y="310" width="1" height="3"/>
</g>
<g font-weight="bold" font-size="12" fill="#ff0000" class="la">
<text y="150.7" font-size="12.4" style="white-space:pre"><tspan x="850.5">0.618</tspan><tspan x="880.4"> \ </tspan><tspan x="890.3">86.29</tspan></text>
<rect x="885" y="154.1" width="41" height="1.3" stroke="none"/>
<text y="181" font-size="12.4" style="white-space:pre"><tspan x="850.5">0.500</tspan><tspan x="880.4"> \ </tspan><tspan x="890.3">83.60</tspan></text>
<rect x="885" y="183.9" width="41" height="1.3" stroke="none"/>
<text y="210.6" font-size="12.4" style="white-space:pre"><tspan x="850.5">0.382</tspan><tspan x="880.4"> \ </tspan><tspan x="890.3">80.90</tspan></text>
<rect x="885" y="213.70000000000002" width="41" height="1.3" stroke="none"/>
<text y="247.6" font-size="12.4" style="white-space:pre"><tspan x="850.5">0.236</tspan><tspan x="880.4"> \ </tspan><tspan x="890.3">77.56</tspan></text>
<rect x="885" y="250.70000000000002" width="41" height="1.3" stroke="none"/>
</g>
<g fill="none" stroke="#ffff00" stroke-width="1.1" stroke-dasharray="4 2.6">
<line x1="857.3" y1="62" x2="884.6" y2="305"/>
<line x1="885" y1="58.6" x2="924.5" y2="58.6"/>
<polyline points="884.6,305 884.6,310.4 924.5,310.4"/>
</g>
<text x="561.6" y="56.1" font-weight="bold" font-size="12.5" fill="#fa2d48" class="la" textLength="29.5" lengthAdjust="spacingAndGlyphs">95.01</text>
<text x="806.6" y="323.1" font-weight="bold" font-size="12.5" fill="#3bc98a" class="la" textLength="30.8" lengthAdjust="spacingAndGlyphs">72.15</text>
<text x="99.2" y="378.7" font-weight="bold" font-size="12" fill="#3bc98a" class="la" textLength="30.5" lengthAdjust="spacingAndGlyphs">67.02</text>
<g font-size="12.4" fill="#f5304a" class="la">
<text x="86.6" y="24.5" text-anchor="end">98.37</text>
<text x="929.5" y="24.5">98.37</text>
<text x="86.6" y="85.5" text-anchor="end">92.78</text>
<text x="929.5" y="85.5">92.78</text>
<text x="86.6" y="147.5" text-anchor="end">87.19</text>
<text x="929.5" y="147.5">87.19</text>
<text x="86.6" y="209.5" text-anchor="end">81.60</text>
<text x="929.5" y="209.5">81.60</text>
<text x="86.6" y="270.5" text-anchor="end">76.01</text>
<text x="929.5" y="270.5">76.01</text>
<text x="86.6" y="332.5" text-anchor="end">70.42</text>
<text x="929.5" y="332.5">70.42</text>
<text x="86.6" y="415.5" text-anchor="end">2.91</text>
<text x="929.5" y="415.5">2.91</text>
<text x="86.6" y="442.5" text-anchor="end">1.49</text>
<text x="929.5" y="442.5">1.49</text>
<text x="86.6" y="469.5" text-anchor="end">0.07</text>
<text x="929.5" y="469.5">0.07</text>
<text x="86.6" y="496.5" text-anchor="end">-1.35</text>
<text x="929.5" y="496.5">-1.35</text>
<text x="86.6" y="546.5" text-anchor="end">118.89</text>
<text x="929.5" y="546.5">118.89</text>
<text x="86.6" y="576.5" text-anchor="end">75.34</text>
<text x="929.5" y="576.5">75.34</text>
<text x="86.6" y="606.5" text-anchor="end">31.78</text>
<text x="929.5" y="606.5">31.78</text>
</g>
<g id="macd" shape-rendering="crispEdges">
<rect x="94" y="468" width="1" height="4" fill="#3fd48a"/>
<rect x="101" y="468" width="1" height="2" fill="#3fd48a"/>
<rect x="108" y="466" width="1" height="3" fill="#ff3355"/>
<rect x="115" y="464" width="1" height="5" fill="#ff3355"/>
<rect x="122" y="461" width="1" height="8" fill="#ff3355"/>
<rect x="129" y="458" width="1" height="11" fill="#ff3355"/>
<rect x="136" y="456" width="1" height="13" fill="#ff3355"/>
<rect x="143" y="450" width="1" height="19" fill="#ff3355"/>
<rect x="150" y="449" width="1" height="20" fill="#ff3355"/>
<rect x="157" y="445" width="1" height="24" fill="#ff3355"/>
<rect x="164" y="442" width="1" height="27" fill="#ff3355"/>
<rect x="171" y="437" width="1" height="32" fill="#ff3355"/>
<rect x="178" y="441" width="1" height="28" fill="#ff3355"/>
<rect x="185" y="448" width="1" height="21" fill="#ff3355"/>
<rect x="192" y="449" width="1" height="20" fill="#ff3355"/>
<rect x="199" y="452" width="1" height="17" fill="#ff3355"/>
<rect x="206" y="455" width="1" height="14" fill="#ff3355"/>
<rect x="213" y="454" width="1" height="15" fill="#ff3355"/>
<rect x="220" y="450" width="1" height="19" fill="#ff3355"/>
<rect x="227" y="448" width="1" height="21" fill="#ff3355"/>
<rect x="234" y="449" width="1" height="20" fill="#ff3355"/>
<rect x="241" y="449" width="1" height="20" fill="#ff3355"/>
<rect x="248" y="449" width="1" height="20" fill="#ff3355"/>
<rect x="255" y="447" width="1" height="22" fill="#ff3355"/>
<rect x="262" y="447" width="1" height="22" fill="#ff3355"/>
<rect x="269" y="455" width="1" height="14" fill="#ff3355"/>
<rect x="276" y="456" width="1" height="13" fill="#ff3355"/>
<rect x="283" y="456" width="1" height="13" fill="#ff3355"/>
<rect x="290" y="458" width="1" height="11" fill="#ff3355"/>
<rect x="297" y="459" width="1" height="10" fill="#ff3355"/>
<rect x="304" y="458" width="1" height="11" fill="#ff3355"/>
<rect x="311" y="462" width="1" height="7" fill="#ff3355"/>
<rect x="318" y="465" width="1" height="4" fill="#ff3355"/>
<rect x="325" y="468" width="1" height="3" fill="#3fd48a"/>
<rect x="332" y="468" width="1" height="10" fill="#3fd48a"/>
<rect x="339" y="468" width="1" height="19" fill="#3fd48a"/>
<rect x="346" y="468" width="1" height="23" fill="#3fd48a"/>
<rect x="353" y="468" width="1" height="21" fill="#3fd48a"/>
<rect x="360" y="468" width="1" height="21" fill="#3fd48a"/>
<rect x="367" y="468" width="1" height="24" fill="#3fd48a"/>
<rect x="374" y="468" width="1" height="28" fill="#3fd48a"/>
<rect x="381" y="468" width="1" height="28" fill="#3fd48a"/>
<rect x="388" y="468" width="1" height="25" fill="#3fd48a"/>
<rect x="395" y="468" width="1" height="22" fill="#3fd48a"/>
<rect x="402" y="468" width="1" height="17" fill="#3fd48a"/>
<rect x="409" y="468" width="1" height="12" fill="#3fd48a"/>
<rect x="416" y="468" width="1" height="4" fill="#3fd48a"/>
<rect x="423" y="460" width="1" height="9" fill="#ff3355"/>
<rect x="430" y="454" width="1" height="15" fill="#ff3355"/>
<rect x="437" y="450" width="1" height="19" fill="#ff3355"/>
<rect x="444" y="446" width="1" height="23" fill="#ff3355"/>
<rect x="451" y="448" width="1" height="21" fill="#ff3355"/>
<rect x="458" y="449" width="1" height="20" fill="#ff3355"/>
<rect x="465" y="451" width="1" height="18" fill="#ff3355"/>
<rect x="472" y="450" width="1" height="19" fill="#ff3355"/>
<rect x="479" y="451" width="1" height="18" fill="#ff3355"/>
<rect x="486" y="449" width="1" height="20" fill="#ff3355"/>
<rect x="493" y="448" width="1" height="21" fill="#ff3355"/>
<rect x="500" y="447" width="1" height="22" fill="#ff3355"/>
<rect x="507" y="449" width="1" height="20" fill="#ff3355"/>
<rect x="514" y="459" width="1" height="10" fill="#ff3355"/>
<rect x="521" y="465" width="1" height="4" fill="#ff3355"/>
<rect x="528" y="467" width="1" height="2" fill="#ff3355"/>
<rect x="535" y="468" width="1" height="5" fill="#3fd48a"/>
<rect x="542" y="468" width="1" height="7" fill="#3fd48a"/>
<rect x="549" y="467" width="1" height="2" fill="#ff3355"/>
<rect x="556" y="468" width="1" height="2" fill="#3fd48a"/>
<rect x="563" y="468" width="1" height="6" fill="#3fd48a"/>
<rect x="570" y="468" width="1" height="15" fill="#3fd48a"/>
<rect x="577" y="468" width="1" height="19" fill="#3fd48a"/>
<rect x="584" y="468" width="1" height="33" fill="#3fd48a"/>
<rect x="591" y="468" width="1" height="45" fill="#3fd48a"/>
<rect x="598" y="468" width="1" height="51" fill="#3fd48a"/>
<rect x="605" y="468" width="1" height="44" fill="#3fd48a"/>
<rect x="612" y="468" width="1" height="38" fill="#3fd48a"/>
<rect x="619" y="468" width="1" height="40" fill="#3fd48a"/>
<rect x="626" y="468" width="1" height="38" fill="#3fd48a"/>
<rect x="633" y="468" width="1" height="26" fill="#3fd48a"/>
<rect x="640" y="468" width="1" height="18" fill="#3fd48a"/>
<rect x="647" y="468" width="1" height="11" fill="#3fd48a"/>
<rect x="654" y="468" width="1" height="4" fill="#3fd48a"/>
<rect x="661" y="462" width="1" height="7" fill="#ff3355"/>
<rect x="668" y="462" width="1" height="7" fill="#ff3355"/>
<rect x="675" y="466" width="1" height="3" fill="#ff3355"/>
<rect x="682" y="468" width="1" height="10" fill="#3fd48a"/>
<rect x="689" y="468" width="1" height="11" fill="#3fd48a"/>
<rect x="696" y="468" width="1" height="16" fill="#3fd48a"/>
<rect x="703" y="468" width="1" height="14" fill="#3fd48a"/>
<rect x="710" y="468" width="1" height="19" fill="#3fd48a"/>
<rect x="717" y="468" width="1" height="22" fill="#3fd48a"/>
<rect x="724" y="468" width="1" height="26" fill="#3fd48a"/>
<rect x="731" y="468" width="1" height="23" fill="#3fd48a"/>
<rect x="738" y="468" width="1" height="23" fill="#3fd48a"/>
<rect x="745" y="468" width="1" height="21" fill="#3fd48a"/>
<rect x="752" y="468" width="1" height="29" fill="#3fd48a"/>
<rect x="759" y="468" width="1" height="35" fill="#3fd48a"/>
<rect x="766" y="468" width="1" height="37" fill="#3fd48a"/>
<rect x="773" y="468" width="1" height="31" fill="#3fd48a"/>
<rect x="780" y="468" width="1" height="22" fill="#3fd48a"/>
<rect x="787" y="468" width="1" height="16" fill="#3fd48a"/>
<rect x="794" y="468" width="1" height="14" fill="#3fd48a"/>
<rect x="801" y="468" width="1" height="21" fill="#3fd48a"/>
<rect x="808" y="468" width="1" height="16" fill="#3fd48a"/>
<rect x="815" y="468" width="1" height="7" fill="#3fd48a"/>
<rect x="822" y="467" width="1" height="2" fill="#ff3355"/>
<rect x="829" y="464" width="1" height="5" fill="#ff3355"/>
<rect x="836" y="463" width="1" height="6" fill="#ff3355"/>
<rect x="843" y="464" width="1" height="5" fill="#ff3355"/>
<rect x="850" y="465" width="1" height="4" fill="#ff3355"/>
<rect x="857" y="465" width="1" height="4" fill="#ff3355"/>
</g>
<polyline points="94.5,483.2 101.5,481.8 108.5,480.4 115.5,479.5 122.5,476.2 129.5,473.7 136.5,471.5 143.5,467.3 150.5,462.8 157.5,457.8 164.5,452.8 171.5,446.9 178.5,445.2 185.5,446.0 192.5,445.5 199.5,444.8 206.5,444.3 213.5,442.7 220.5,437.7 227.5,434.6 234.5,433.0 241.5,430.1 248.5,427.6 255.5,423.4 262.5,421.3 269.5,423.4 276.5,422.3 283.5,420.4 290.5,420.1 297.5,419.7 304.5,418.1 311.5,419.2 318.5,420.4 325.5,423.4 332.5,427.6 339.5,434.3 346.5,439.3 353.5,440.7 360.5,444.3 367.5,447.7 374.5,452.7 381.5,456.6 388.5,457.7 395.5,458.6 402.5,458.6 409.5,456.6 416.5,453.2 423.5,446.0 430.5,442.7 437.5,437.7 444.5,432.6 451.5,431.0 458.5,429.6 465.5,428.4 472.5,425.4 479.5,423.4 486.5,420.1 493.5,416.7 500.5,413.4 507.5,413.4 514.5,416.2 521.5,418.7 528.5,420.9 535.5,423.4 542.5,424.6 549.5,421.8 556.5,422.3 563.5,425.9 570.5,431.8 577.5,435.1 584.5,446.0 591.5,456.9 598.5,466.2 605.5,468.3 612.5,470.3 619.5,475.6 626.5,479.6 633.5,476.3 640.5,474.3 647.5,472.5 654.5,469.4 661.5,464.6 668.5,463.2 675.5,464.8 682.5,471.5 689.5,473.5 696.5,476.9 703.5,478.6 710.5,482.2 717.5,488.9 724.5,492.3 731.5,493.6 738.5,496.1 745.5,497.8 752.5,503.2 759.5,511.5 766.5,516.6 773.5,518.2 780.5,516.6 787.5,515.4 794.5,517.1 801.5,520.4 808.5,520.4 815.5,517.1 822.5,513.2 829.5,511.2 836.5,510.4 843.5,510.4 850.5,510.4 857.5,510.4" fill="none" stroke="#f2f2f2" stroke-width="1" stroke-linejoin="round" shape-rendering="crispEdges"/>
<polyline points="94.5,482.5 101.5,482.0 108.5,481.5 115.5,481.2 122.5,480.4 129.5,479.2 136.5,477.3 143.5,475.3 150.5,472.0 157.5,468.6 164.5,465.6 171.5,462.3 178.5,458.9 185.5,456.6 192.5,454.4 199.5,452.7 206.5,451.0 213.5,449.4 220.5,446.9 227.5,444.3 234.5,441.8 241.5,439.8 248.5,437.7 255.5,434.3 262.5,431.3 269.5,429.8 276.5,427.9 283.5,426.3 290.5,424.8 297.5,423.4 304.5,422.3 311.5,421.8 318.5,421.8 325.5,422.3 332.5,423.4 339.5,425.1 346.5,428.4 353.5,430.6 360.5,433.5 367.5,436.0 374.5,439.0 381.5,441.8 388.5,445.2 395.5,448.0 402.5,450.2 409.5,451.5 416.5,451.5 423.5,450.2 430.5,449.4 437.5,446.0 444.5,444.3 451.5,441.0 458.5,438.2 465.5,436.0 472.5,434.0 479.5,431.8 486.5,430.1 493.5,426.8 500.5,424.5 507.5,422.6 514.5,420.9 521.5,420.1 528.5,420.1 535.5,421.3 542.5,421.4 549.5,421.4 556.5,421.4 563.5,422.3 570.5,423.9 577.5,426.4 584.5,430.5 591.5,435.5 598.5,441.8 605.5,447.1 612.5,451.0 619.5,456.0 626.5,460.8 633.5,464.2 640.5,466.0 647.5,467.4 654.5,468.2 661.5,467.7 668.5,466.5 675.5,466.5 682.5,467.7 689.5,468.5 696.5,470.2 703.5,472.7 710.5,474.4 717.5,476.9 724.5,480.7 731.5,483.3 738.5,486.1 745.5,487.8 752.5,491.5 759.5,495.8 766.5,499.5 773.5,503.2 780.5,506.2 787.5,507.9 794.5,509.5 801.5,512.5 808.5,514.2 815.5,514.5 822.5,514.5 829.5,514.2 836.5,513.2 843.5,512.4 850.5,512.0 857.5,511.2" fill="none" stroke="#e6e628" stroke-width="1" stroke-linejoin="round" shape-rendering="crispEdges"/>
<polyline points="94.5,599.5 101.5,596.8 108.5,593.1 115.5,590.6 122.5,585.6 129.5,578.9 136.5,573.5 143.5,568.9 150.5,566.8 157.5,564.3 164.5,563.0 171.5,561.3 178.5,565.8 185.5,573.2 192.5,573.2 199.5,574.3 206.5,577.4 213.5,571.8 220.5,568.5 227.5,567.1 234.5,567.1 241.5,566.5 248.5,563.5 255.5,562.3 262.5,560.6 269.5,568.5 276.5,567.7 283.5,567.1 290.5,567.7 297.5,566.0 304.5,564.3 311.5,568.8 318.5,571.8 325.5,575.2 332.5,582.7 339.5,596.9 346.5,602.0 353.5,600.6 360.5,601.5 367.5,605.6 374.5,609.2 381.5,608.6 388.5,603.6 395.5,598.6 402.5,588.9 409.5,579.9 416.5,572.7 423.5,568.2 430.5,565.1 437.5,564.6 444.5,563.5 451.5,564.3 458.5,564.3 465.5,564.3 472.5,563.5 479.5,564.0 486.5,562.1 493.5,560.6 500.5,560.6 507.5,566.5 514.5,576.0 521.5,583.0 528.5,586.6 535.5,593.1 542.5,594.1 549.5,583.5 556.5,585.2 563.5,590.2 570.5,600.3 577.5,603.6 584.5,610.7 591.5,614.8 598.5,616.5 605.5,612.0 612.5,607.8 619.5,610.3 626.5,612.0 633.5,602.3 640.5,594.4 647.5,583.5 654.5,579.4 661.5,572.5 668.5,574.8 675.5,581.9 682.5,592.4 689.5,594.4 696.5,601.5 703.5,601.5 710.5,607.0 717.5,612.0 724.5,615.3 731.5,612.0 738.5,614.2 745.5,615.3 752.5,618.7 759.5,619.9 766.5,620.4 773.5,615.3 780.5,609.5 787.5,606.5 794.5,607.8 801.5,612.8 808.5,608.2 815.5,598.2 822.5,589.6 829.5,587.4 836.5,587.4 843.5,590.2 850.5,592.8 857.5,592.8" fill="none" stroke="#f2f2f2" stroke-width="1" stroke-linejoin="round" shape-rendering="crispEdges"/>
<polyline points="94.5,594.3 101.5,595.6 108.5,594.5 115.5,593.1 122.5,590.6 129.5,587.3 136.5,582.6 143.5,578.1 150.5,574.4 157.5,571.0 164.5,568.0 171.5,566.0 178.5,566.0 185.5,568.8 192.5,570.5 199.5,571.8 206.5,573.5 213.5,573.0 220.5,571.0 227.5,570.2 234.5,569.3 241.5,568.2 248.5,566.8 255.5,565.1 262.5,563.5 269.5,565.1 276.5,565.6 283.5,566.3 290.5,566.5 297.5,566.0 304.5,565.1 311.5,566.8 318.5,568.5 325.5,570.7 332.5,574.8 339.5,582.7 346.5,588.9 353.5,592.8 360.5,595.3 367.5,599.1 374.5,603.1 381.5,605.3 388.5,605.0 395.5,602.8 402.5,598.6 409.5,591.9 416.5,584.4 423.5,578.5 430.5,574.3 437.5,571.8 444.5,569.3 451.5,568.0 458.5,566.5 465.5,566.0 472.5,565.1 479.5,564.8 486.5,564.0 493.5,562.6 500.5,562.3 507.5,564.3 514.5,568.5 521.5,574.0 528.5,578.5 535.5,583.5 542.5,586.6 549.5,585.2 556.5,584.9 563.5,587.2 570.5,591.1 577.5,594.9 584.5,600.3 591.5,605.3 598.5,609.2 605.5,609.5 612.5,609.0 619.5,609.5 626.5,610.0 633.5,607.8 640.5,604.0 647.5,597.4 654.5,591.1 661.5,584.7 668.5,581.5 675.5,581.9 682.5,585.2 689.5,588.6 696.5,592.4 703.5,595.8 710.5,599.4 717.5,603.6 724.5,607.5 731.5,609.2 738.5,611.2 745.5,612.5 752.5,614.5 759.5,616.5 766.5,617.3 773.5,616.5 780.5,614.5 787.5,612.0 794.5,610.7 801.5,611.3 808.5,610.1 815.5,605.7 822.5,600.7 829.5,596.4 836.5,593.3 843.5,591.9 850.5,592.4 857.5,592.4" fill="none" stroke="#e6e628" stroke-width="1" stroke-linejoin="round" shape-rendering="crispEdges"/>
<polyline points="94.5,610.7 101.5,600.6 108.5,590.3 115.5,587.3 122.5,578.9 129.5,562.2 136.5,554.6 143.5,550.8 150.5,554.3 157.5,551.3 164.5,552.5 171.5,551.3 178.5,565.8 185.5,583.2 192.5,578.5 199.5,581.5 206.5,584.4 213.5,571.8 220.5,563.5 227.5,560.5 234.5,563.5 241.5,563.5 248.5,556.4 255.5,555.4 262.5,554.6 269.5,575.2 276.5,571.0 283.5,567.7 290.5,568.5 297.5,565.5 304.5,562.1 311.5,573.5 318.5,578.5 325.5,584.0 332.5,598.9 339.5,624.2 346.5,628.2 353.5,616.2 360.5,612.3 367.5,621.2 374.5,623.2 381.5,619.5 388.5,603.6 395.5,593.6 402.5,575.7 409.5,561.8 416.5,549.6 423.5,544.7 430.5,544.7 437.5,551.3 444.5,552.3 451.5,558.1 458.5,559.6 465.5,561.3 472.5,560.5 479.5,563.5 486.5,558.1 493.5,556.3 500.5,556.3 507.5,570.2 514.5,593.6 521.5,603.6 528.5,605.3 535.5,613.2 542.5,609.5 549.5,579.4 556.5,585.2 563.5,596.1 570.5,617.3 577.5,619.5 584.5,630.0 591.5,632.0 598.5,630.9 605.5,615.3 612.5,607.3 619.5,612.0 626.5,612.8 633.5,587.7 640.5,574.8 647.5,557.3 654.5,555.9 661.5,549.2 668.5,561.8 675.5,579.4 682.5,607.0 689.5,608.6 696.5,619.5 703.5,614.5 710.5,624.5 717.5,629.6 724.5,630.4 731.5,617.9 738.5,621.5 745.5,620.4 752.5,626.6 759.5,626.6 766.5,625.0 773.5,612.8 780.5,598.9 787.5,595.3 794.5,604.5 801.5,615.7 808.5,603.0 815.5,581.9 822.5,568.5 829.5,570.2 836.5,575.2 843.5,588.6 850.5,593.1 857.5,593.1" fill="none" stroke="#ee22ee" stroke-width="1" stroke-linejoin="round" shape-rendering="crispEdges"/>
<text x="91.8" y="14" font-size="12" fill="#ffffff" class="cj" textLength="60.5" lengthAdjust="spacingAndGlyphs" >美原油连续</text>
<text x="152.6" y="14" font-size="12" fill="#f0a030" class="cj" textLength="48.4" lengthAdjust="spacingAndGlyphs" >【日线】</text>
<text x="222.5" y="13.6" font-size="12.7" fill="#e8e8e8" class="la" textLength="60.8" lengthAdjust="spacingAndGlyphs" >BOLL(20,2)</text>
<text x="288.3" y="13.6" font-size="12.7" fill="#e8e8e8" class="la" textLength="58" lengthAdjust="spacingAndGlyphs" >MID:77.32</text>
<text x="355.9" y="13.6" font-size="12.7" fill="#c8c81e" class="la" textLength="70.7" lengthAdjust="spacingAndGlyphs" >UPPER:82.16</text>
<text x="435.4" y="13.6" font-size="12.7" fill="#e020e0" class="la" textLength="76.1" lengthAdjust="spacingAndGlyphs" >LOWER:72.48</text>
<text x="92.2" y="405.3" font-size="12.7" fill="#e8e8e8" class="la" textLength="83.8" lengthAdjust="spacingAndGlyphs" >MACD(26,12,9)</text>
<text x="181.7" y="405.3" font-size="12.7" fill="#e8e8e8" class="la" textLength="56.8" lengthAdjust="spacingAndGlyphs" >DIFF:-2.15</text>
<text x="248.5" y="405.3" font-size="12.7" fill="#c8c81e" class="la" textLength="53.7" lengthAdjust="spacingAndGlyphs" >DEA:-2.25</text>
<text x="312.2" y="405.3" font-size="12.7" fill="#e020e0" class="la" textLength="62.3" lengthAdjust="spacingAndGlyphs" >MACD:0.20</text>
<text x="92.2" y="535.8" font-size="12.7" fill="#e8e8e8" class="la" textLength="55.2" lengthAdjust="spacingAndGlyphs" >KDJ(9,3,3)</text>
<text x="153.1" y="535.8" font-size="12.7" fill="#e8e8e8" class="la" textLength="41.2" lengthAdjust="spacingAndGlyphs" >K:47.86</text>
<text x="203.3" y="535.8" font-size="12.7" fill="#c8c81e" class="la" textLength="41.7" lengthAdjust="spacingAndGlyphs" >D:48.01</text>
<text x="254.5" y="535.8" font-size="12.7" fill="#e020e0" class="la" textLength="37.7" lengthAdjust="spacingAndGlyphs" >J:47.57</text>
<g shape-rendering="crispEdges"><rect x="208" y="2" width="11" height="12" fill="#fff" stroke="#2a3bd0" stroke-width="1"/><rect x="208" y="14" width="12" height="1" fill="#888"/><rect x="219" y="2" width="1" height="13" fill="#888"/></g>
<polyline points="208.5,9 211.4,4.7 213.6,7.2 216.3,5 218.5,5.4" fill="none" stroke="#e02020" stroke-width="1.2"/>
<polyline points="208.5,11.7 211.4,7.4 213.6,9.9 216.3,7.7 218.5,8.1" fill="none" stroke="#2a3bd0" stroke-width="1.2"/>
<g fill="none" stroke="#9a9a9a" stroke-width="1" shape-rendering="crispEdges">
<rect x="863.5" y="1.5" width="13" height="13"/>
<rect x="879.5" y="1.5" width="13" height="13"/>
<rect x="895.5" y="1.5" width="13" height="13"/>
<rect x="911.5" y="1.5" width="13" height="13"/>
</g>
<g fill="#9a9a9a" stroke="none" shape-rendering="crispEdges">
<rect x="869" y="7" width="2" height="2"/>
<rect x="865.3" y="7" width="2.5" height="2"/><rect x="872.3" y="7" width="2.5" height="2"/>
<rect x="869" y="3.2" width="2" height="2.5"/><rect x="869" y="10.5" width="2" height="2.5"/>
</g>
<g fill="#9a9a9a" stroke="none">
<rect x="882" y="3.5" width="1" height="9.5"/><rect x="881" y="11" width="10" height="1"/>
<path d="M880.7 5.2 L882.5 2.8 L884.3 5.2 Z M889.2 9.8 L891.3 11.5 L889.2 13.2 Z M882.8 9.8 L880.7 11.5 L882.8 13.2 Z"/>
<rect x="884.9" y="3.9" width="1.3" height="5.7"/><path d="M886.4 6.7 L888.9 4.2 L888.9 9.2 Z"/>
<rect x="898" y="3.5" width="1" height="9.5"/><rect x="897" y="11" width="10" height="1"/>
<path d="M896.7 5.2 L898.5 2.8 L900.3 5.2 Z M905.2 9.8 L907.3 11.5 L905.2 13.2 Z M898.8 9.8 L896.7 11.5 L898.8 13.2 Z"/>
<path d="M901.4 4.1 L906.2 7 L901.4 9.9 Z"/>
<rect x="913.5" y="3.5" width="3" height="9" fill="none" stroke="#9a9a9a" stroke-width="1"/>
<rect x="915.5" y="6.8" width="4" height="1.3"/><path d="M918.6 4.8 L922 7.4 L918.6 10 Z"/>
</g>
<circle cx="29" cy="529" r="4.3" fill="#000"/>
<g fill="#ff0000" shape-rendering="crispEdges">
<rect x="28" y="522" width="1" height="2"/><rect x="28" y="534" width="1" height="2"/><rect x="22" y="528" width="2" height="1"/><rect x="34" y="528" width="2" height="1"/>
<rect x="23" y="523" width="1" height="1"/>
<rect x="24" y="524" width="1" height="1"/>
<rect x="34" y="523" width="1" height="1"/>
<rect x="33" y="524" width="1" height="1"/>
<rect x="23" y="534" width="1" height="1"/>
<rect x="24" y="533" width="1" height="1"/>
<rect x="34" y="534" width="1" height="1"/>
<rect x="33" y="533" width="1" height="1"/>
</g><circle cx="28.9" cy="528.9" r="3.3" fill="#fff"/><circle cx="28.9" cy="529" r="1.9" fill="#ff0000"/>
<g font-size="12" font-weight="bold" fill="#9fa6b4" class="la">
<text x="117" y="646" textLength="43.5" lengthAdjust="spacingAndGlyphs">2023/07</text>
<text x="265" y="646" textLength="43.5" lengthAdjust="spacingAndGlyphs">2023/08</text>
<text x="425.8" y="646" textLength="43.5" lengthAdjust="spacingAndGlyphs">2023/09</text>
<text x="573" y="646" textLength="43.5" lengthAdjust="spacingAndGlyphs">2023/10</text>
<text x="727" y="646" textLength="43.5" lengthAdjust="spacingAndGlyphs">2023/11</text>
</g>
<g shape-rendering="crispEdges" fill="#333">
<rect x="115" y="633" width="1" height="4"/>
<rect x="262" y="633" width="1" height="4"/>
<rect x="423" y="633" width="1" height="4"/>
<rect x="570" y="633" width="1" height="4"/>
<rect x="724" y="633" width="1" height="4"/>
</g>
<text x="34" y="648" font-size="13" font-weight="bold" fill="#f5c046" class="cj">日线</text>
<path d="M64.5 647.5 L69 638.5 L73.5 647.5 Z" fill="#f5c046"/>
<rect x="60" y="654" width="39" height="14" fill="#454857"/>
<rect x="278" y="654" width="63" height="14" fill="#454857"/>
<g shape-rendering="crispEdges" fill="#3a3a3a">
<rect x="59" y="654" width="1" height="14"/>
<rect x="99" y="654" width="1" height="14"/>
<rect x="157" y="654" width="1" height="14"/>
<rect x="197" y="654" width="1" height="14"/>
<rect x="237" y="654" width="1" height="14"/>
<rect x="277" y="654" width="1" height="14"/>
<rect x="341" y="654" width="1" height="14"/>
<rect x="405" y="654" width="1" height="14"/>
</g>
<text x="28" y="665.5" font-size="12" fill="#c4c4c4" class="cj">指标</text>
<text x="67.5" y="665.5" font-size="12" fill="#ffffff" class="cj">模板</text>
<text x="107" y="665.5" font-size="12" fill="#f8c030" class="mo" textLength="18" lengthAdjust="spacingAndGlyphs">VIP</text>
<text x="125.5" y="665.5" font-size="12" fill="#f8c030" class="cj">指标</text>
<text x="165" y="665.5" font-size="12" fill="#c4c4c4" class="cj">标准</text>
<text x="205" y="665.5" font-size="12" fill="#c4c4c4" class="mo" textLength="24" lengthAdjust="spacingAndGlyphs">MACD</text>
<text x="246" y="665.5" font-size="12" fill="#c4c4c4" class="mo" textLength="24" lengthAdjust="spacingAndGlyphs">BOLL</text>
<text x="285.5" y="665.5" font-size="12" fill="#ffffff" class="cj">另存模板</text>
<text x="349.5" y="665.5" font-size="12" fill="#c4c4c4" class="cj">管理模板</text>
</svg>
</body></html>
